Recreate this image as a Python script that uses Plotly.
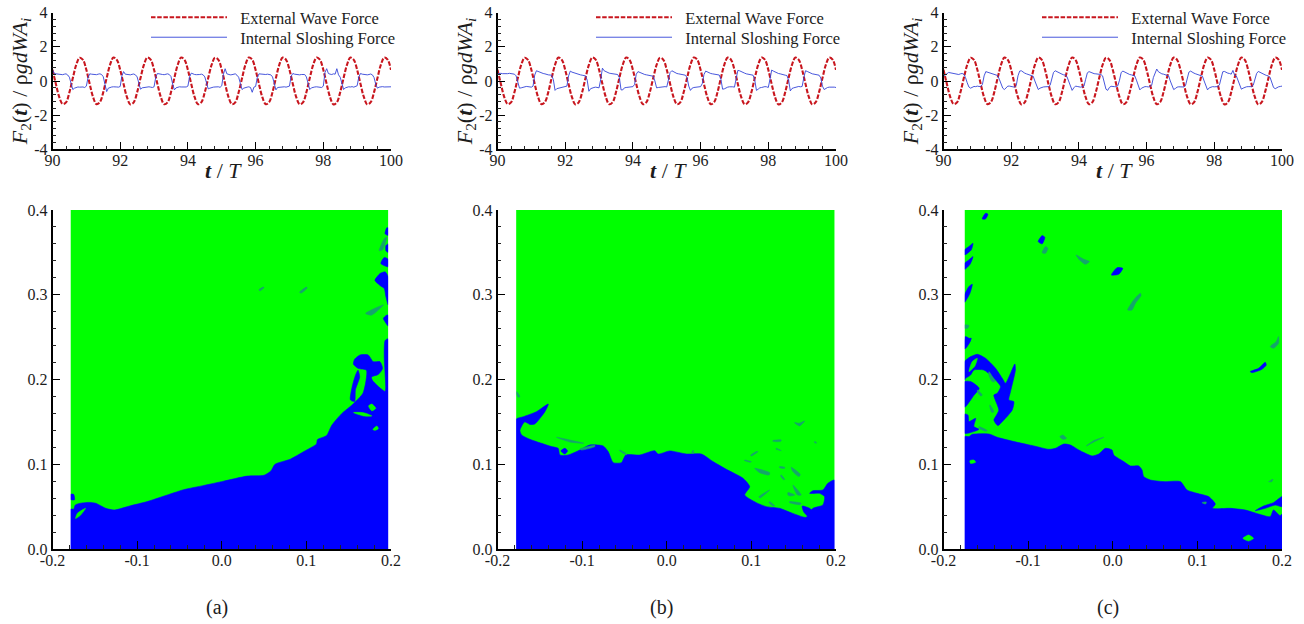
import plotly.graph_objects as go

# ---------- force histories ----------
time_t = [90 + i * 0.05 for i in range(201)]
time_red = [90 + i * 0.1 for i in range(101)]

external_force = [
 .66,-.17,-.94,-1.35,-1.25,-.66,.17,.94,1.36,1.24,
 .66,-.18,-.95,-1.36,-1.24,-.65,.18,.95,1.37,1.24,
 .65,-.18,-.95,-1.37,-1.25,-.66,.17,.94,1.37,1.25,
 .66,-.17,-.94,-1.36,-1.25,-.66,.18,.95,1.37,1.24,
 .65,-.18,-.95,-1.36,-1.24,-.65,.17,.94,1.36,1.24,
 .66,-.17,-.94,-1.36,-1.25,-.66,.17,.95,1.37,1.25,
 .65,-.18,-.95,-1.36,-1.24,-.65,.18,.95,1.37,1.24,
 .66,-.17,-.94,-1.36,-1.25,-.66,.17,.94,1.37,1.25,
 .66,-.18,-.95,-1.37,-1.25,-.65,.18,.95,1.37,1.24,
 .65,-.18,-.95,-1.37,-1.24,-.65,.17,.94,1.37,1.25,.65]

sloshing_a = [
 .65,.45,.42,.40,.38,.36,.37,.40,.42,.35,.22,-.15,-.50,-.42,-.36,-.35,-.36,-.34,-.35,-.38,
 -.30,.20,.42,.40,.38,.38,.37,.40,.42,.38,.25,-.20,-.62,-.42,-.37,-.35,-.34,-.33,-.35,-.36,
 -.32,.30,.55,.40,.38,.37,.36,.39,.41,.36,.24,-.12,-.48,-.40,-.38,-.36,-.35,-.34,-.36,-.38,
 -.34,.22,.44,.41,.40,.38,.37,.38,.42,.38,.26,-.18,-.52,-.40,-.36,-.34,-.35,-.36,-.33,-.35,
 -.30,.25,.46,.40,.38,.37,.36,.38,.40,.36,.24,-.16,-.46,-.42,-.38,-.36,-.35,-.33,-.34,-.37,
 -.28,.40,.72,.42,.38,.36,.37,.38,.42,.34,.22,-.14,-.50,-.42,-.37,-.36,-.34,-.38,-.66,-.36,
 -.32,.20,.42,.40,.38,.37,.38,.40,.40,.36,.24,-.18,-.52,-.38,-.36,-.34,-.35,-.34,-.36,-.34,
 -.30,.28,.44,.40,.38,.37,.36,.38,.40,.38,.24,-.20,-.50,-.40,-.36,-.35,-.34,-.36,-.34,-.38,
 -.30,.50,.72,.44,.40,.38,.42,.40,.72,.36,.22,-.16,-.50,-.40,-.36,-.34,-.35,-.33,-.36,-.34,
 -.28,.24,.44,.40,.38,.36,.36,.38,.41,.36,.20,-.20,-.42,-.36,-.34,-.33,-.35,-.34,-.36,-.35,-.34]

sloshing_b = [
 .42,.44,.45,.43,.42,.42,.43,.45,.44,.42,.40,.30,-.05,-.42,-.40,-.36,-.34,-.32,-.33,-.35,
 -.36,-.30,.35,.60,.55,.50,.46,.44,.42,.38,.36,.35,.34,.08,-.55,-.45,-.42,-.38,-.36,-.34,
 -.32,-.30,.30,.58,.52,.48,.45,.42,.40,.36,.34,.32,.30,.05,-.60,-.45,-.40,-.38,-.36,-.38,
 -.40,.10,.75,.60,.55,.48,.46,.44,.42,.40,.40,.38,.20,-.52,-.52,-.40,-.38,-.36,-.35,-.33,
 -.33,-.20,.40,.55,.50,.46,.42,.38,.36,.34,.32,.30,.28,.00,-.40,-.38,-.36,-.35,-.34,-.33,
 -.35,.00,.50,.60,.54,.48,.44,.42,.40,.38,.36,.34,.20,-.30,-.55,-.42,-.38,-.36,-.34,-.32,
 -.33,-.15,.38,.58,.52,.48,.44,.42,.40,.38,.36,.35,.10,-.48,-.46,-.40,-.36,-.34,-.33,-.34,
 -.36,.05,.62,.60,.54,.48,.46,.42,.40,.37,.35,.34,.05,-.55,-.48,-.40,-.38,-.35,-.33,-.34,
 -.38,.10,.64,.58,.52,.48,.44,.42,.38,.36,.34,.32,.05,-.58,-.44,-.40,-.36,-.34,-.32,-.34,
 -.32,.20,.60,.56,.50,.46,.42,.40,.38,.36,.34,.18,-.30,-.50,-.42,-.38,-.36,-.35,-.36,-.36,-.38]

sloshing_c = [
 .30,.34,.42,.50,.48,.44,.40,.38,.36,.38,.42,.44,.40,.20,-.10,-.35,-.42,-.38,-.32,-.33,
 -.30,-.32,-.32,-.20,.30,.55,.52,.48,.44,.40,.36,.33,.32,.10,-.22,-.42,-.50,-.38,-.30,-.30,
 -.30,-.34,-.36,-.26,.30,.58,.60,.52,.46,.42,.38,.34,.30,.28,.00,-.30,-.50,-.42,-.36,-.35,
 -.34,-.35,-.33,-.25,.15,.50,.60,.54,.48,.44,.40,.36,.35,.24,-.05,-.35,-.55,-.40,-.30,-.32,
 -.35,-.36,-.34,-.30,.10,.48,.55,.50,.46,.43,.42,.40,.40,.38,.30,-.10,-.48,-.55,-.38,-.31,
 -.30,-.33,-.34,-.28,.05,.50,.58,.52,.46,.42,.38,.36,.34,.30,.05,-.30,-.52,-.42,-.36,-.33,
 -.33,-.35,-.32,-.25,.20,.50,.70,.54,.46,.42,.40,.36,.34,.30,.00,-.30,-.50,-.44,-.36,-.34,
 -.33,-.34,-.35,-.26,.15,.52,.58,.50,.46,.42,.38,.36,.32,.28,.00,-.32,-.52,-.40,-.34,-.33,
 -.34,-.35,-.33,-.24,.22,.54,.56,.50,.46,.44,.40,.62,.34,.30,.02,-.30,-.48,-.42,-.36,-.34,
 -.33,-.34,-.33,-.25,.10,.44,.56,.50,.46,.42,.36,.32,.30,.20,-.10,-.38,-.45,-.38,-.34,-.32,-.30]

# ---------- contour regions, one outline per list, (x, y) in axis units ----------
extent_a = (-.1786, .1967)
extent_b = (-.178, .1983)
extent_c = (-.175, .2002)

main_a = [(-.1786,-.01),(-.1786,.047),(-.175,.047),(-.173,.052),(-.167,.054),(-.157,.055),(-.149,.054),(-.137,.048),
 (-.127,.046),(-.108,.051),(-.088,.056),(-.068,.0625),(-.045,.070),(-.021,.075),(.002,.080),(.030,.086),(.050,.087),
 (.058,.092),(.063,.100),(.081,.106),(.097,.115),(.112,.124),(.113,.129),(.124,.134),(.130,.146),(.142,.160),(.154,.170),
 (.167,.184),(.171,.211),(.1615,.213),(.1556,.218),(.157,.224),(.1635,.229),(.173,.229),(.179,.221),(.187,.221),
 (.190,.213),(.185,.206),(.177,.203),(.178,.199),(.193,.186),(.193,.207),(.192,.227),(.193,.246),(.1967,.248),(.1967,-.01)]
blue_a = [
 [(.161,.211),(.163,.203),(.158,.188),(.157,.174),(.152,.176),(.154,.191),(.158,.205)],
 [(.193,.372),(.195,.379),(.1967,.379),(.1967,.370)],
 [(.194,.358),(.1967,.36),(.1967,.35),(.194,.352)],
 [(.188,.337),(.192,.344),(.1967,.342),(.1967,.333)],
 [(.181,.317),(.187,.325),(.193,.327),(.1967,.321),(.1967,.288),(.194,.2976),(.192,.3075),(.187,.311)],
 [(.191,.272),(.195,.276),(.1967,.276),(.1967,.263),(.193,.268)],
 [(-.1786,.0645),(-.175,.0645),(-.174,.058),(-.1786,.0585)],
]
green_a = [
 [(-.1727,.036),(-.1707,.042),(-.1609,.048),(-.1668,.040)],
 [(.1558,.161),(.1676,.1608),(.1774,.157),(.1676,.157)],
 [(.1735,.1688),(.1774,.171),(.182,.166),(.1774,.163)],
 [(.1786,.141),(.1833,.145),(.185,.142),(.181,.140)],
]
teal_a = [
 [(.170,.278),(.177,.276),(.191,.288),(.183,.285)],
 [(.186,.352),(.190,.353),(.195,.368),(.192,.366)],
 [(.044,.306),(.049,.309),(.050,.3085),(.045,.3045)],
 [(.092,.303),(.1,.309),(.101,.308),(.094,.302)],
]

main_b = [(-.178,-.01),(-.178,.153),(-.1696,.156),(-.154,.162),(-.140,.171),(-.144,.162),(-.156,.1475),(-.1617,.147),(-.168,.150),
 (-.1735,.140),(-.1715,.1345),(-.1617,.1294),(-.148,.1247),(-.136,.1208),(-.1283,.1188),(-.1263,.1109),(-.1165,.1109),
 (-.1027,.1168),(-.0909,.1227),(-.0751,.1216),(-.0692,.1149),(-.0633,.1019),(-.0535,.1019),(-.0484,.1109),(-.0319,.1109),
 (-.0142,.116),(-.0102,.112),(.0035,.1157),(.0232,.1121),(.0409,.1121),(.0547,.1031),(.0704,.094),(.0901,.0834),(.098,.0736),
 (.0921,.0637),(.1058,.0547),(.1176,.05),(.1334,.048),(.149,.042),(.1648,.0374),(.1727,.048),(.1845,.0519),(.1865,.0618),
 (.1806,.0657),(.1688,.0657),(.1727,.0688),(.1845,.0696),(.1904,.0775),(.1983,.0814),(.1983,-.01)]
blue_b = [
 [(.1601,.0507),(.1688,.048),(.1727,.0441),(.1668,.0389),(.1617,.0441)],
 [(-.1251,.1157),(-.1204,.1188),(-.1172,.1157),(-.1204,.1121)],
]
green_b = []
teal_b = [
 [(-.1302,.1318),(-.1145,.1286),(-.098,.1247),(-.1145,.1263)],
 [(-.1027,.118),(-.085,.1223),(-.085,.1208),(-.1007,.1168)],
 [(-.1774,.1857),(-.1735,.1798),(-.1755,.179),(-.1774,.183)],
 [(.1039,.0952),(.1216,.0901),(.1208,.0873),(.1098,.0901)],
 [(.1471,.0964),(.1577,.0881),(.1562,.0854),(.1491,.0913)],
 [(.1511,.1491),(.1562,.1483),(.1629,.1511),(.157,.1452)],
 [(.1491,.0755),(.1589,.0637),(.1546,.0637),(.1511,.0696)],
 [(.1432,.0665),(.1511,.0637),(.1456,.0626),(.1432,.0637)],
 [(.0999,.1098),(.1078,.1149),(.1059,.1149),(.0991,.1106)],
 [(.0921,.1050),(.0999,.103),(.0985,.1025),(.0921,.1042)],
 [(.1255,.1279),(.1353,.1286),(.1345,.127),(.1255,.127)],
 [(.1294,.1188),(.1353,.116),(.1325,.1168),(.1294,.1176)],
 [(.1334,.0972),(.1393,.0964),(.1393,.0952),(.1334,.096)],
 [(.1452,.0559),(.1589,.0539),(.1577,.0524),(.1452,.0547)],
 [(.1216,.0559),(.1275,.0507),(.1255,.0507),(.121,.0547)],
 [(.109,.0618),(.1216,.0696),(.1208,.0688),(.1102,.0602)],
 [(-.0555,.1168),(-.0476,.1121),(-.0476,.111),(-.0555,.1157)],
 [(.0311,.1168),(.0319,.113),(.0295,.113)],
 [(.1747,.1267),(.1767,.1259),(.1767,.1248),(.1747,.1255)],
 [(.1353,.0873),(.1393,.0822),(.138,.0818),(.1345,.0865)],
]

main_c = [(-.175,-.01),(-.175,.1326),(-.170,.1326),(-.166,.1353),(-.1463,.1357),(-.1365,.1318),(-.1129,.1259),(-.0932,.1216),
 (-.0755,.1176),(-.0677,.1188),(-.0578,.1239),(-.05,.1227),(-.0401,.1168),(-.0244,.1098),(-.0165,.1121),(-.0087,.1188),
 (-.0008,.1168),(.0012,.1109),(.013,.1031),(.0208,.098),(.0307,.098),(.0346,.0932),(.0366,.0854),(.0445,.0814),(.0602,.0795),
 (.0799,.0795),(.0877,.0696),(.0995,.0657),(.1133,.0618),(.1212,.0531),(.118,.048),(.1389,.048),(.1566,.046),(.1723,.0413),
 (.1861,.0382),(.19,.0461),(.1978,.0393),(.2002,.0413),(.2002,-.01)]
blue_c = [
 [(.1684,.0452),(.1782,.0507),(.19,.0547),(.2002,.0618),(.2002,.05),(.192,.0519),(.1802,.048)],
 [(-.175,.2211),(-.1678,.227),(-.1598,.2297),(-.1503,.225),(-.1385,.2132),(-.1306,.2014),(-.1267,.1955),(-.1208,.2073),
  (-.1157,.2183),(-.115,.2112),(-.1208,.1857),(-.1228,.1758),(-.1169,.1739),(-.1188,.164),(-.1287,.1522),(-.1358,.1456),
  (-.1405,.1522),(-.1373,.1581),(-.1346,.164),(-.1405,.1817),(-.1365,.1837),(-.1326,.1916),(-.1424,.2034),(-.1523,.2112),
  (-.1641,.2112),(-.168,.2053),(-.1739,.2014),(-.175,.1994)],
 [(-.175,.1975),(-.1678,.1975),(-.1579,.1896),(-.1638,.1817),(-.175,.1672)],
 [(-.175,.1593),(-.1711,.1581),(-.1699,.1503),(-.162,.1542),(-.1641,.1444),(-.1581,.1412),(-.175,.1365)],
 [(-.1742,.2506),(-.168,.2467),(-.1738,.2368),(-.175,.2368)],
 [(-.175,.3529),(-.17,.3568),(-.1652,.3607),(-.1672,.3529),(-.175,.347)],
 [(-.175,.3371),(-.17,.3411),(-.1652,.345),(-.1686,.336),(-.175,.33)],
 [(-.175,.2998),(-.17,.3096),(-.166,.3124),(-.1688,.3017),(-.175,.2911)],
 [(-.175,.2467),(-.1672,.2486),(-.1711,.2408),(-.175,.236)],
 [(-.1542,.3895),(-.1503,.3961),(-.1475,.395),(-.1503,.3895)],
 [(-.0881,.3627),(-.0834,.3698),(-.0803,.3678),(-.0834,.36)],
 [(-.0016,.3234),(.0051,.332),(.0118,.3312),(.0071,.3242)],
 [(.1625,.2093),(.1723,.2132),(.1802,.2203),(.1814,.2172),(.1762,.212),(.1645,.2081)],
]
green_c = [
 [(-.1699,.2093),(-.166,.2211),(-.1601,.225),(-.1633,.2152)],
 [(-.1688,.1042),(-.164,.105),(-.1621,.1023),(-.168,.101)],
 [(.1538,.0126),(.1605,.0165),(.1664,.0126),(.1605,.0094)],
]
teal_c = [
 [(.1054,.0547),(.1105,.0555),(.1098,.0531)],
 [(-.0625,.1326),(-.059,.1345),(-.0547,.1306),(-.0586,.1294)],
 [(-.0311,.1216),(-.0224,.1279),(-.0106,.1318),(-.0224,.1263)],
 [(.1841,.0795),(.1892,.0822),(.188,.0795)],
 [(-.175,.2644),(-.1699,.2636),(-.1715,.2605),(-.175,.2605)],
 [(-.1463,.2093),(-.1393,.1975),(-.1424,.1975),(-.1463,.205)],
 [(-.1598,.1876),(-.1542,.1817),(-.1558,.1805),(-.1598,.185)],
 [(-.1452,.17),(-.1405,.162),(-.143,.1612),(-.1452,.1675)],
 [(-.1581,.1444),(-.1483,.1397),(-.1503,.139),(-.1581,.1425)],
 [(-.0834,.3497),(-.0795,.3568),(-.0767,.3548),(-.0795,.3489)],
 [(-.0433,.347),(-.0342,.3419),(-.0275,.3391),(-.0323,.336),(-.0393,.3411)],
 [(.0177,.2821),(.0248,.2939),(.0327,.3017),(.0334,.299),(.0268,.2899),(.0228,.2821)],
 [(.1861,.2388),(.1932,.2447),(.1959,.2506),(.1959,.2427),(.19,.2368)],
]

# ---------- axis labels ----------
force_ticks = [-4, -2, 0, 2, 4]
force_text = ["-4", "-2", "0", "2", "4"]
time_ticks = [90, 92, 94, 96, 98, 100]
time_text = ["90", "92", "94", "96", "98", "100"]
space_ticks = [-.2, -.1, 0, .1, .2]
space_text = ["-0.2", "-0.1", "0.0", "0.1", "0.2"]
height_ticks = [0, .1, .2, .3, .4]
height_text = ["0.0", "0.1", "0.2", "0.3", "0.4"]
captions = ["(a)", "(b)", "(c)"]
series_names = ["External Wave Force", "Internal Sloshing Force"]

W, H = 1304, 624
FONT = "Liberation Serif"
INK = "#1c1c1c"
GREEN, BLUE, TEAL = "#00ff00", "#0000ff", "#14a56c"
panel_left = [52.5, 497.5, 943.5]
panel_width = 338.5
sloshing = [sloshing_a, sloshing_b, sloshing_c]
extents = [extent_a, extent_b, extent_c]
mains = [main_a, main_b, main_c]
blues = [blue_a, blue_b, blue_c]
greens = [green_a, green_b, green_c]
teals = [teal_a, teal_b, teal_c]


def flatten(polys):
    xs, ys = [], []
    for poly in polys:
        xs += [p[0] for p in poly] + [poly[0][0], None]
        ys += [p[1] for p in poly] + [poly[0][1], None]
    return xs, ys


fig = go.Figure()
layout = dict(
    template="none",
    width=W, height=H, margin=dict(l=0, r=0, t=0, b=0, pad=0),
    paper_bgcolor="white", plot_bgcolor="white", showlegend=True,
    font=dict(family=FONT, color=INK, size=16),
)


def axis(domain, rng, vals, text, minor, **kw):
    return dict(
        domain=domain, range=rng, tickmode="array", tickvals=vals, ticktext=text, automargin=False,
        ticks="inside", ticklen=8, tickwidth=1.2, tickcolor="black",
        showline=True, linecolor="black", linewidth=1.6, showgrid=False, zeroline=False,
        tickfont=dict(family=FONT, size=16, color=INK),
        minor=dict(ticks="inside", ticklen=4, tickwidth=1, tickcolor="#222", dtick=minor, tick0=rng[0]),
        **kw,
    )


legend_no = 0
for i in range(3):
    left = panel_left[i] / W
    right = (panel_left[i] + panel_width) / W
    n_top, n_bot = 2 * i + 1, 2 * i + 2
    xt, yt = f"x{n_top}", f"y{n_top}"
    xb, yb = f"x{n_bot}", f"y{n_bot}"

    tops = [0, 20]
    lg = []
    for k in range(2):
        legend_no += 1
        name = "legend" if legend_no == 1 else f"legend{legend_no}"
        lg.append(name)
        layout[name] = dict(
            x=(panel_left[i] + 93.5) / W, y=(H - tops[k]) / H, xanchor="left", yanchor="top",
            bgcolor="rgba(0,0,0,0)", itemwidth=76, font=dict(family=FONT, size=16.5, color=INK),
            itemclick=False, itemdoubleclick=False)

    fig.add_trace(go.Scatter(
        x=time_red, y=external_force, mode="lines", name="\u00a0\u00a0" + series_names[0], legend=lg[0],
        line=dict(color="#c8161e", width=2.1, dash="4.5px,1.7px", shape="spline"), xaxis=xt, yaxis=yt))
    fig.add_trace(go.Scatter(
        x=time_t, y=sloshing[i], mode="lines", name="\u00a0\u00a0" + series_names[1], legend=lg[1],
        line=dict(color="#3344d8", width=0.9), xaxis=xt, yaxis=yt))

    x0, x1 = extents[i]
    for polys, colour, shape in (
        ([[(x0, -.01), (x0, .4), (x1, .4), (x1, -.01)]], GREEN, "linear"),
        ([mains[i]] + blues[i], BLUE, "spline"),
        (greens[i], GREEN, "spline"),
        (teals[i], TEAL, "spline"),
        # white margins either side of the computed domain
        ([[(-.2, -.01), (-.2, .4), (x0, .4), (x0, -.01)], [(x1, -.01), (x1, .4), (.21, .4), (.21, -.01)]], "#ffffff", "linear"),
    ):
        if not polys:
            continue
        xs, ys = flatten(polys)
        line = dict(color=colour, width=0 if colour == "#ffffff" else 0.6, shape=shape)
        if shape == "spline":
            line["smoothing"] = 0.6
        fig.add_trace(go.Scatter(
            x=xs, y=ys, mode="lines", fill="toself", fillcolor=colour, showlegend=False,
            line=line, hoverinfo="skip", xaxis=xb, yaxis=yb))

    suffix_t = "" if n_top == 1 else str(n_top)
    layout["xaxis" + suffix_t] = axis(
        [left, right], [90, 100], time_ticks, time_text, .4, anchor=yt, ticklabelstandoff=-4)
    layout["yaxis" + suffix_t] = axis(
        [(H - 149.3) / H, (H - 12.7) / H], [-4, 4], force_ticks, force_text, .4, anchor=xt,
        title=dict(text="<i>F</i><sub>2</sub>(<i><b>t</b></i>) / ρ<i>gdWA</i><sub><i>i</i></sub>",
                   font=dict(family=FONT, size=22, color=INK), standoff=0))
    layout[f"xaxis{n_bot}"] = axis(
        [left, right], [-.2, .2], space_ticks, space_text, .02, anchor=yb, ticklabelstandoff=-4)
    layout[f"yaxis{n_bot}"] = axis(
        [(H - 549) / H, (H - 210) / H], [0, .4], height_ticks, height_text, .02, anchor=xb)

fig.update_layout(**layout)

for i, caption in enumerate(captions):
    fig.add_annotation(
        xref="paper", yref="paper", x=(panel_left[i] + 164) / W, y=(H - 607) / H, xanchor="center", yanchor="middle",
        text=caption, showarrow=False, font=dict(family=FONT, size=20, color=INK))
    fig.add_annotation(
        xref="paper", yref="paper", x=(panel_left[i] + 171) / W, y=(H - 170) / H, xanchor="center", yanchor="middle",
        text="<i><b>t</b></i> / <i>T</i>", showarrow=False, font=dict(family=FONT, size=22, color=INK))

fig.write_html("out.html", config=dict(displayModeBar=False),
               post_script="document.body.style.margin='0';document.body.style.overflow='hidden';")
